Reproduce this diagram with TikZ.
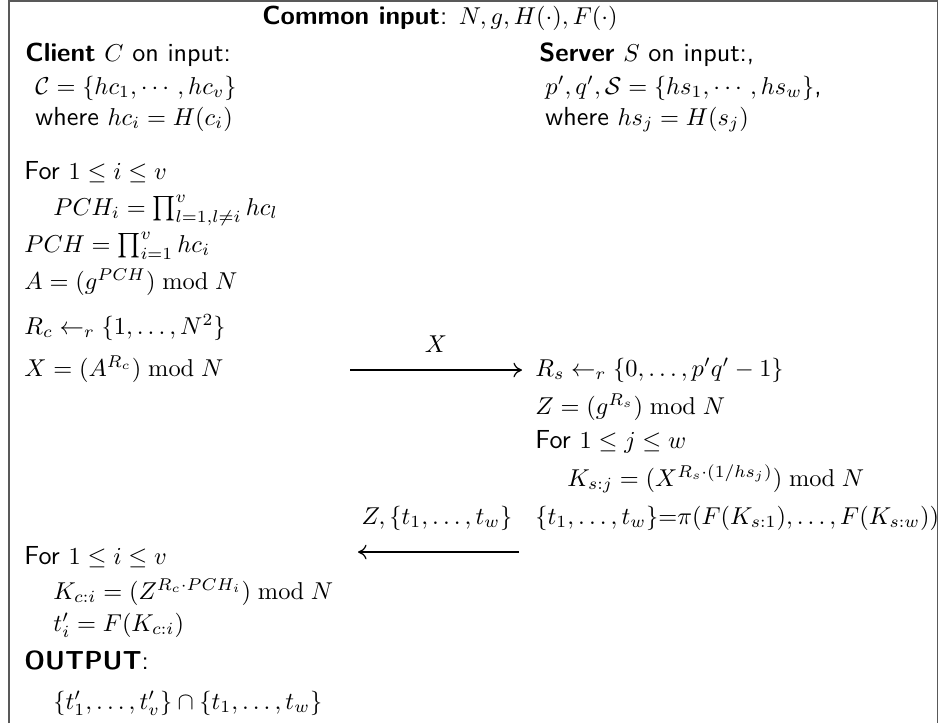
\documentclass[tikz,border=0pt]{standalone}
\usepackage{amsmath,amssymb}
\usepackage{fontspec}
\setsansfont{lmsans10-regular.otf}[Scale=1.07,BoldFont=lmsans10-bold.otf]
\usetikzlibrary{arrows.meta}
\begin{document}
\begin{tikzpicture}[x=0.41pt,y=-0.41pt,
  txt/.style={anchor=base west,inner sep=0pt,font=\sffamily},
  lbl/.style={anchor=base,inner sep=0pt},
  frame/.style={draw=black!65,line width=0.8pt},
  msg/.style={-{To[length=3.5pt,width=6pt]},line width=0.5pt}]
\useasboundingbox (0,0) rectangle (939,723);
\draw[frame] (9,723) -- (9,1) -- (937.5,1) -- (937.5,723);
% common
\node[lbl,font=\sffamily] (common) at (440,24) {\textbf{Common input}: $N,g,H(\cdot),F(\cdot)$};
% client header
\node[txt] (client) at (25,61) {\textbf{Client} $C$ on input:};
\node[txt] (cset) at (35,94) {$\mathcal{C}=\{hc_1,\cdots,hc_v\}$};
\node[txt] (cwhere) at (35,125) {where $hc_i=H(c_i)$};
% server header
\node[txt] (server) at (539,61) {\textbf{Server} $S$ on input:,};
\node[txt] (sset) at (545,94) {$p',q',\mathcal{S}=\{hs_1,\cdots,hs_w\}$,};
\node[txt] (swhere) at (545,125) {where $hs_j=H(s_j)$};
% client steps
\node[txt] (for1) at (24,179) {For $1\le i\le v$};
\node[txt] (pchi) at (53,215) {$PCH_i=\prod_{l=1,l\neq i}^{v} hc_l$};
\node[txt] (pch) at (24,252) {$PCH=\prod_{i=1}^{v} hc_i$};
\node[txt] (A) at (24,289) {$A=(g^{PCH}) \bmod N$};
\node[txt] (rc) at (24,334) {$R_c\leftarrow_r\{1,\ldots,N^2\}$};
\node[txt] (X) at (24,376) {$X=(A^{R_c}) \bmod N$};
% server steps
\node[txt] (rs) at (535,376) {$R_s\leftarrow_r\{0,\ldots,p'q'-1\}$};
\node[txt] (Z) at (535,414) {$Z=(g^{R_s}) \bmod N$};
\node[txt] (forj) at (535,448) {For $1\le j\le w$};
\node[txt] (ks) at (567,486) {$K_{s:j}=(X^{R_s\cdot(1/hs_j)}) \bmod N$};
\node[txt] (tset) at (535,524) {${\{t_1,\ldots,t_w\}}{=}{\pi(F(K_{s:1}),\ldots,F(K_{s:w}))}$};
% messages
\coordinate (m1s) at (350,370);
\coordinate (m1e) at (522,370);
\draw[msg] (m1s) -- (m1e);
\node[lbl] (m1l) at (436,352) {$X$};
\coordinate (m2s) at (519,552);
\coordinate (m2e) at (358,552);
\draw[msg] (m2s) -- (m2e);
\node[lbl] (m2l) at (437,524) {$Z,\{t_1,\ldots,t_w\}$};
% client final
\node[txt] (for2) at (24,564) {For $1\le i\le v$};
\node[txt] (kc) at (53,599) {$K_{c:i}=(Z^{R_c\cdot PCH_i}) \bmod N$};
\node[txt] (tp) at (53,631) {$t'_i=F(K_{c:i})$};
\node[txt] (out) at (24,669) {\textbf{OUTPUT}:};
\node[txt] (res) at (53,709) {$\{t'_1,\ldots,t'_v\}\cap\{t_1,\ldots,t_w\}$};
\end{tikzpicture}
\end{document}
